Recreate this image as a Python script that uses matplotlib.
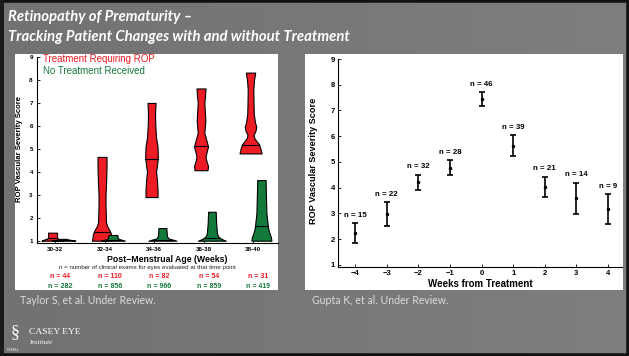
import matplotlib
matplotlib.use('Agg')
from matplotlib import pyplot as plt
from matplotlib.patches import Rectangle
import matplotlib.transforms as mtransforms
import numpy as np

# ---- data: left panel (violin profiles: score levels, half widths in px) ----
age_groups = ['30-32', '32-34', '34-36', '36-38', '38-40']
n_treated = [44, 110, 82, 54, 31]
n_untreated = [282, 856, 966, 859, 419]

red_levels = [
    [1.0, 1.04, 1.1, 1.15, 1.35],
    [1.0, 1.3, 1.45, 1.65, 1.8, 2.5, 3.0, 3.5, 4.2, 4.65],
    [2.9, 3.2, 3.6, 4.0, 4.3, 4.6, 5.1, 5.5, 6.0, 6.5, 7.0],
    [4.07, 4.25, 4.45, 4.65, 4.85, 5.1, 5.35, 5.7, 6.2, 6.5, 7.0, 7.3, 7.63],
    [4.8, 5.0, 5.2, 5.45, 5.6, 5.8, 5.95, 6.15, 6.5, 7.0, 7.6, 8.0, 8.32],
]
red_widths = [
    [11, 9, 5, 4.5, 4.5],
    [10, 9, 7.5, 5, 4, 3.5, 3.5, 4, 4.5, 4.5],
    [6, 6, 5.5, 4.5, 5.5, 6.3, 6, 4.5, 3.8, 3.5, 4],
    [6.5, 7, 5.5, 4.5, 5.5, 7, 5.5, 3.3, 4.3, 4, 3.3, 4, 4.5],
    [11, 10, 8.5, 4, 3, 5, 5.8, 4.5, 3.3, 3, 2.8, 3.5, 4.7],
]
red_medians = [1.13, 1.4, 4.55, 5.12, 5.18]

green_levels = [
    [1.0, 1.03, 1.06, 1.08],
    [1.0, 1.05, 1.1, 1.2, 1.25],
    [1.0, 1.05, 1.1, 1.2, 1.5, 1.55],
    [1.0, 1.05, 1.12, 1.2, 1.35, 1.8, 2.26],
    [1.0, 1.15, 1.4, 1.6, 2.2, 3.0, 3.4, 3.64],
]
green_widths = [
    [12, 8, 4, 3],
    [12, 8, 5, 4.5, 4.5],
    [14, 10, 6, 4.5, 4, 4],
    [14, 11, 8, 6, 5, 4.2, 3.8],
    [10, 9.5, 7.5, 6.5, 5, 4.5, 4.3, 4.2],
]
green_medians = [1.02, 1.05, 1.03, 1.13, 1.62]

# ---- data: right panel ----
weeks = [-4, -3, -2, -1, 0, 1, 2, 3, 4]
score_mean = [2.25, 2.98, 4.21, 4.78, 7.45, 5.63, 4.03, 3.59, 3.16]
score_err = [0.38, 0.47, 0.3, 0.3, 0.28, 0.4, 0.4, 0.61, 0.58]
n_exams = [15, 22, 32, 28, 46, 39, 21, 14, 9]

RED = '#ed1c24'
GREEN = '#137a3c'
W, H = 629, 356


def fx(x):
    return x / W


def fy(y):
    return 1 - y / H


plt.rcParams['font.family'] = ['Liberation Sans', 'DejaVu Sans']

fig = plt.figure(figsize=(6.29, 3.56), dpi=100)

# slide background (figure-sized axes, drawn first)
bg = fig.add_axes([0, 0, 1, 1])
grad = np.linspace(0.0, 1.0, 200)[None, :] * np.ones((50, 1))
bg.imshow(grad, cmap=matplotlib.colors.LinearSegmentedColormap.from_list('g', ['#727272', '#7e7e7e']),
          aspect='auto', extent=[0, 1, 0, 1])
bg.set_xlim(0, 1)
bg.set_ylim(0, 1)
bg.axis('off')
# white panels
bg.add_patch(Rectangle((fx(15), fy(290)), (278 - 15) / W, (290 - 54) / H,
                       facecolor='white', edgecolor='none'))
bg.add_patch(Rectangle((fx(305), fy(290)), (623 - 305) / W, (290 - 54) / H,
                       facecolor='white', edgecolor='none'))
fig.patches.append(Rectangle((0, 0), 1, 1, transform=fig.transFigure, fill=False,
                             edgecolor='#111111', lw=4, zorder=5))
fig.patches.append(Rectangle((0, 0), 4 / W, 1, transform=fig.transFigure,
                             facecolor='#1a1a1a', edgecolor='none', zorder=5))

# title
fig.text(fx(8), fy(17), 'Retinopathy of Prematurity \u2013', color='white', fontsize=10.7,
         fontweight='bold', style='italic', family=['Lato', 'DejaVu Sans'], va='center')
fig.text(fx(8), fy(37), 'Tracking Patient Changes with and without Treatment', color='white',
         fontsize=10.7, fontweight='bold', style='italic', family=['Lato', 'DejaVu Sans'], va='center')

# ---------------- left: violins ----------------
ax1 = fig.add_axes([fx(37), fy(243), (278 - 37) / W, (243 - 57) / H])
ax1.set_facecolor('none')
px = 49.5  # pixels per group
groups = np.arange(1, len(age_groups) + 1)
red_pos = groups - 0.05
green_pos = groups + 0.17


def draw_violin(ax, pos, levels, widths, median, color):
    lv = np.array(levels)
    hw = np.array(widths) / px
    ax.fill_betweenx(lv, pos - hw, pos + hw, facecolor=color, edgecolor='black', lw=0.8, zorder=3)
    mw = np.interp(median, lv, hw)
    ax.plot([pos - mw, pos + mw], [median, median], color='black', lw=0.8, zorder=4)


for i in range(len(age_groups)):
    draw_violin(ax1, red_pos[i], red_levels[i], red_widths[i], red_medians[i], RED)
    draw_violin(ax1, green_pos[i], green_levels[i], green_widths[i], green_medians[i], GREEN)

ax1.set_xlim(1 - 18 / px, 5 + 25 / px)
ax1.set_ylim(0.9, 9.0)
ax1.set_yticks(range(1, 10))
ax1.set_xticks(groups)
ax1.set_xticklabels(age_groups)
ax1.spines['top'].set_visible(False)
ax1.spines['right'].set_visible(False)
ax1.spines['left'].set_linewidth(0.8)
ax1.spines['bottom'].set_linewidth(0.8)
ax1.tick_params(direction='in', length=2, width=0.6, labelsize=4.5, pad=3)
for lab in ax1.get_xticklabels() + ax1.get_yticklabels():
    lab.set_fontweight('bold')

ax1.text(1 - 12 / px, 8.9, 'Treatment Requiring ROP', color=RED, fontsize=7, va='center')
ax1.text(1 - 12 / px, 8.38, 'No Treatment Received', color=GREEN, fontsize=7, va='center')

fig.text(fx(20), fy(149), 'ROP Vascular Severity Score', rotation=90, fontsize=5.6,
         fontweight='bold', ha='center', va='center')
fig.text(fx(167), fy(259), 'Post\u2212Menstrual Age (Weeks)', fontsize=6.3, fontweight='bold',
         ha='center', va='center')
fig.text(fx(147), fy(268), 'n = number of clinical exams for eyes evaluated at that time point',
         fontsize=4.4, ha='center', va='center', color='#222222')

tr = mtransforms.blended_transform_factory(ax1.transData, fig.transFigure)
for i in range(len(age_groups)):
    ax1.text(groups[i] + 0.11, fy(277), 'n = %d' % n_treated[i], transform=tr, color=RED,
             fontsize=5, fontweight='bold', ha='center', va='center')
    ax1.text(groups[i] + 0.11, fy(286), 'n = %d' % n_untreated[i], transform=tr, color=GREEN,
             fontsize=5, fontweight='bold', ha='center', va='center')

# ---------------- right: error bars ----------------
ax2 = fig.add_axes([fx(338), fy(267), (622 - 338) / W, (267 - 59) / H])
ax2.set_facecolor('none')
ax2.errorbar(weeks, score_mean, yerr=score_err, fmt='.', color='black', ms=3,
             elinewidth=1.2, capsize=2.4, capthick=1.2)
for w, m, e, n in zip(weeks, score_mean, score_err, n_exams):
    ax2.annotate('n = %d' % n, (w, m + e), xytext=(0, 3), textcoords='offset points',
                 ha='center', va='bottom', fontsize=5.7, fontweight='bold')
ax2.set_xlim(-4.54, 4.44)
ax2.set_ylim(0.92, 9.0)
ax2.set_xticks(weeks)
ax2.set_yticks(range(1, 10))
ax2.spines['top'].set_visible(False)
ax2.spines['right'].set_visible(False)
ax2.spines['left'].set_linewidth(0.8)
ax2.spines['bottom'].set_linewidth(0.8)
ax2.tick_params(direction='in', length=2, width=0.6, labelsize=5.5, pad=2)
for lab in ax2.get_xticklabels() + ax2.get_yticklabels():
    lab.set_fontweight('bold')
fig.text(fx(313), fy(161), 'ROP Vascular Severity Score', rotation=90, fontsize=6.6,
         fontweight='bold', ha='center', va='center')
fig.text(fx(480), fy(284), 'Weeks from Treatment', fontsize=7, fontweight='bold',
         ha='center', va='center')

# captions and logo
fig.text(fx(20), fy(301), 'Taylor S, et al. Under Review.', color='#dcdcdc', fontsize=7.6,
         family=['Lato', 'DejaVu Sans'], va='center')
fig.text(fx(312), fy(301), 'Gupta K, et al. Under Review.', color='#dcdcdc', fontsize=7.6,
         family=['Lato', 'DejaVu Sans'], va='center')
fig.text(fx(29), fy(332), 'CASEY EYE', color='white', fontsize=6.8,
         family=['Liberation Serif', 'DejaVu Serif'], va='center')
fig.text(fx(29), fy(343), 'Institute', color='white', fontsize=5, style='italic',
         family=['Liberation Serif', 'DejaVu Serif'], va='center')
fig.text(fx(7), fy(350), 'OHSU', color='white', fontsize=3, va='center')
fig.text(fx(15), fy(333), '\u00a7', color='white', fontsize=13, ha='center', va='center',
         family=['Liberation Serif', 'DejaVu Serif'])

fig.savefig('out.png', dpi=100)
